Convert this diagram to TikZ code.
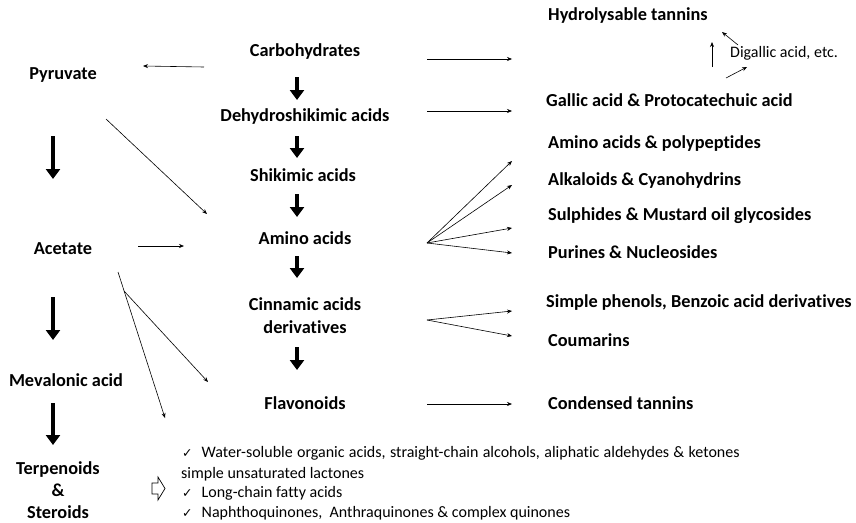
\documentclass[tikz,border=0pt]{standalone}
\usepackage{fontspec}
\setmainfont{Carlito}[Ligatures=NoCommon]
\newfontfamily\symfont{DejaVu Sans}
\usetikzlibrary{arrows.meta}
\begin{document}
\begin{tikzpicture}[x=1pt,y=-1pt,
  lbl/.style={font=\fontsize{18.3}{22}\selectfont\bfseries, inner sep=0pt, align=center},
  rlbl/.style={lbl, anchor=west},
  note/.style={font=\fontsize{16}{18}\selectfont, inner sep=0pt, anchor=west},
  thinarr/.style={-{Stealth[length=5pt,width=4pt]}, line width=0.6pt},
  thickarr/.style={line width=4.5pt, -{Triangle[length=10pt,width=14pt]}}]
\useasboundingbox (0,0) rectangle (856,522);
% centre column
\node[lbl] (carb) at (305,52) {Carbohydrates};
\node[lbl] (dehy) at (305,117) {Dehydroshikimic acids};
\node[lbl] (shik) at (303,175) {Shikimic acids};
\node[lbl] (amino) at (305,238) {Amino acids};
\node[lbl, font=\fontsize{18.3}{23}\selectfont\bfseries] (cinn) at (305,316) {Cinnamic acids\\derivatives};
\node[lbl] (flav) at (305,403) {Flavonoids};
% left column
\node[lbl] (pyr) at (63,75) {Pyruvate};
\node[lbl] (acet) at (63,249) {Acetate};
\node[lbl] (meva) at (66,380) {Mevalonic acid};
\node[lbl] (terp) at (58,490) {Terpenoids\\\&\\Steroids};
% right column
\node[rlbl] (hydro) at (548,16) {Hydrolysable tannins};
\node[note] (digal) at (730,53) {Digallic acid, etc.};
\node[rlbl] (gallic) at (546,100) {Gallic acid \& Protocatechuic acid};
\node[rlbl] (aapp) at (548,144) {Amino acids \& polypeptides};
\node[rlbl] (alk) at (548,181) {Alkaloids \& Cyanohydrins};
\node[rlbl] (sulph) at (548,216) {Sulphides \& Mustard oil glycosides};
\node[rlbl] (pur) at (548,252) {Purines \& Nucleosides};
\node[rlbl] (simp) at (546,303) {Simple phenols, Benzoic acid derivatives};
\node[rlbl] (coum) at (548,340) {Coumarins};
\node[rlbl] (cond) at (548,403) {Condensed tannins};
% notes
\node[note] (n1) at (182,453) {{\symfont\fontsize{12.5}{16}\selectfont ✓}\hspace{9pt}\makebox[538pt][s]{Water-soluble organic acids, straight-chain alcohols, aliphatic aldehydes \& ketones}};
\node[note] (n2) at (181,474) {simple unsaturated lactones};
\node[note] (n3) at (182,493) {{\symfont\fontsize{12.5}{16}\selectfont ✓}\hspace{9pt}Long-chain fatty acids};
\node[note] (n4) at (182,513) {{\symfont\fontsize{12.5}{16}\selectfont ✓}\hspace{9pt}Naphthoquinones,\ \ Anthraquinones \& complex quinones};
% open arrow
\draw[line width=0.7pt, line join=miter] (152,483) -- (158,483) -- (158,477) -- (165,488.5) -- (158,500) -- (158,494) -- (152,494) -- cycle;
% thick arrows
\foreach \a/\b [count=\i] in {77/100,136/158,194/217,256/278,347/370}{
  \coordinate (cs\i) at (297,\a); \coordinate (ce\i) at (297,\b);
  \draw[thickarr] (cs\i) -- (ce\i);}
\foreach \a/\b [count=\i] in {136/179,297/340,403/445}{
  \coordinate (ls\i) at (53,\a); \coordinate (le\i) at (53,\b);
  \draw[thickarr] (ls\i) -- (le\i);}
% thin arrows
\coordinate (cp1) at (204,67); \coordinate (cp2) at (143,66);
\draw[thinarr] (cp1) -- (cp2);
\coordinate (pa1) at (106,119); \coordinate (pa2) at (207,214);
\draw[thinarr] (pa1) -- (pa2);
\coordinate (aa1) at (138,246); \coordinate (aa2) at (184,246);
\draw[thinarr] (aa1) -- (aa2);
\coordinate (af0) at (118,272); \coordinate (af1) at (124,291);
\coordinate (af2) at (208,382); \coordinate (af3) at (165,418);
\draw[thinarr] (af0) -- (af3);
\draw[thinarr] (af1) -- (af2);
\coordinate (r1a) at (427,59); \coordinate (r1b) at (512,59);
\draw[thinarr] (r1a) -- (r1b);
\coordinate (r2a) at (427,111); \coordinate (r2b) at (512,111);
\draw[thinarr] (r2a) -- (r2b);
\coordinate (fan) at (427,243);
\foreach \y [count=\i] in {161,185,228,253}{
  \coordinate (ft\i) at (512,\y);
  \draw[thinarr] (fan) -- (ft\i);}
\coordinate (cfan) at (427,320);
\coordinate (ct1) at (512,311); \coordinate (ct2) at (512,336);
\draw[thinarr] (cfan) -- (ct1);
\draw[thinarr] (cfan) -- (ct2);
\coordinate (fl1) at (427,404); \coordinate (fl2) at (512,404);
\draw[thinarr] (fl1) -- (fl2);
% digallic arrows
\coordinate (d1a) at (712,67); \coordinate (d1b) at (712,42);
\draw[thinarr] (d1a) -- (d1b);
\coordinate (d2a) at (738,45); \coordinate (d2b) at (722,32);
\draw[thinarr] (d2a) -- (d2b);
\coordinate (d3a) at (726,78); \coordinate (d3b) at (747,67);
\draw[thinarr] (d3a) -- (d3b);
\end{tikzpicture}
\end{document}
